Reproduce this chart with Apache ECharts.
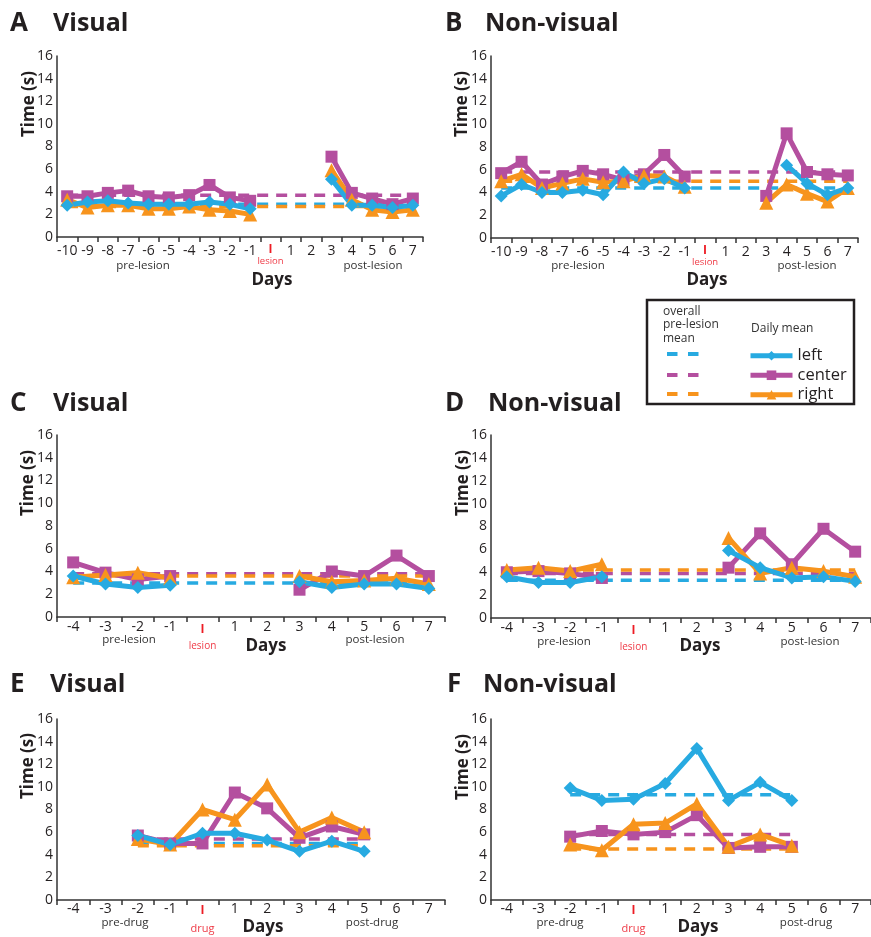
<!DOCTYPE html>
<html><head><meta charset="utf-8">
<script src="https://cdn.jsdelivr.net/npm/echarts@6/dist/echarts.min.js"></script>
<style>html,body{margin:0;padding:0;background:#fff}#c{width:871px;height:937px}</style>
</head><body><div id="c"></div>
<script>
// ---------- categories / ticks ----------
const catsAB = ['-10','-9','-8','-7','-6','-5','-4','-3','-2','-1','lesion','1','2','3','4','5','6','7'];
const catsCD = ['-4','-3','-2','-1','lesion','1','2','3','4','5','6','7'];
const catsEF = ['-4','-3','-2','-1','drug','1','2','3','4','5','6','7'];
const yMin = 0, yMax = 16, yStep = 2;

// ---------- Panel A (Visual, lesion) ----------
const aLeft   = [2.8,3.1,3.2,3.0,2.9,2.9,2.9,3.1,2.9,2.5,null,null,null,5.1,2.8,2.8,2.6,2.8];
const aCenter = [3.6,3.6,3.9,4.1,3.6,3.5,3.7,4.6,3.5,3.2,null,null,null,7.1,3.9,3.4,2.9,3.4];
const aRight  = [3.3,2.6,2.8,2.8,2.5,2.5,2.7,2.4,2.3,2.0,null,null,null,5.9,3.3,2.4,2.2,2.4];
const aMean   = [2.9,3.7,2.7];          // left, center, right
// ---------- Panel B (Non-visual, lesion) ----------
const bLeft   = [3.7,4.7,4.0,4.0,4.2,3.8,5.8,4.8,5.2,4.4,null,null,null,null,6.4,4.8,3.8,4.4];
const bCenter = [5.7,6.7,4.7,5.4,5.9,5.6,5.1,5.6,7.3,5.4,null,null,null,3.7,9.2,5.8,5.6,5.5];
const bRight  = [5.0,5.6,4.4,4.8,5.2,4.9,5.0,5.5,5.4,4.5,null,null,null,3.1,4.7,3.9,3.2,4.4];
const bMean   = [4.4,5.8,5.0];
// ---------- Panel C (Visual, lesion) ----------
const cLeft   = [3.6,2.9,2.6,2.8,null,null,null,3.1,2.6,2.9,2.9,2.5];
const cCenter = [4.8,3.9,3.3,3.6,null,null,null,2.4,4.0,3.6,5.4,3.6];
const cRight  = [3.5,3.7,3.9,3.4,null,null,null,3.6,3.1,3.2,3.4,2.9];
const cMean   = [3.0,3.8,3.6];
// ---------- Panel D (Non-visual, lesion) ----------
const dLeft   = [3.6,3.1,3.1,3.6,null,null,null,5.9,4.4,3.5,3.6,3.2];
const dCenter = [4.0,4.1,3.9,3.5,null,null,null,4.4,7.4,4.7,7.8,5.8];
const dRight  = [4.2,4.4,4.1,4.7,null,null,null,7.0,3.9,4.4,4.1,3.6];
const dMean   = [3.3,3.9,4.2];
// ---------- Panel E (Visual, drug) ----------
const eLeft   = [null,null,5.7,4.9,5.9,5.9,5.3,4.3,5.2,4.3,null,null];
const eCenter = [null,null,5.7,5.0,5.0,9.5,8.1,5.5,6.5,5.8,null,null];
const eRight  = [null,null,5.4,4.9,8.0,7.1,10.2,6.0,7.3,6.0,null,null];
const eMean   = [5.0,5.4,4.8];
// ---------- Panel F (Non-visual, drug) ----------
const fLeft   = [null,null,9.9,8.8,8.9,10.3,13.4,8.8,10.4,8.8,null,null];
const fCenter = [null,null,5.6,6.1,5.8,6.0,7.5,4.6,4.7,4.7,null,null];
const fRight  = [null,null,4.9,4.4,6.7,6.8,8.5,4.7,5.8,4.8,null,null];
const fMean   = [9.3,5.8,4.5];
// mean-line spans (first / last category)
const spanAB = ['-10','7'];
const spanCD = ['-4','7'];
const spanEF = ['-2','5'];

const letters = ['A','B','C','D','E','F'];
const kinds   = ['Visual','Non-visual','Visual','Non-visual','Visual','Non-visual'];

// ---------- styles ----------
const FONT = 'Open Sans';
const COL = {left:'#27aae1', center:'#b44f9f', right:'#f7941d'};
const SYM = {left:'diamond', center:'rect', right:'triangle'};
const SSZ = {left:13, center:12, right:14};
const INK = '#231f20';

const panels = [
  {cats:catsAB, d:{left:aLeft,center:aCenter,right:aRight}, mean:aMean, span:spanAB, ev:'lesion',
   grid:{left:57,top:56,width:366,height:181}, margin:6.5, barLH:13, redLH:10, redFS:9.5},
  {cats:catsAB, d:{left:bLeft,center:bCenter,right:bRight}, mean:bMean, span:spanAB, ev:'lesion',
   grid:{left:491,top:56,width:367,height:182}, margin:6.5, barLH:13, redLH:10, redFS:9.5},
  {cats:catsCD, d:{left:cLeft,center:cCenter,right:cRight}, mean:cMean, span:spanCD, ev:'lesion',
   grid:{left:57,top:435,width:388,height:182}, margin:2.5, barLH:20, redLH:14, redFS:10},
  {cats:catsCD, d:{left:dLeft,center:dCenter,right:dRight}, mean:dMean, span:spanCD, ev:'lesion',
   grid:{left:491,top:435,width:391,height:183}, margin:2.5, barLH:20, redLH:14, redFS:10},
  {cats:catsEF, d:{left:eLeft,center:eCenter,right:eRight}, mean:eMean, span:spanEF, ev:'drug',
   grid:{left:57,top:719,width:388,height:181}, margin:1, barLH:20, redLH:16, redFS:11},
  {cats:catsEF, d:{left:fLeft,center:fCenter,right:fRight}, mean:fMean, span:spanEF, ev:'drug',
   grid:{left:491,top:719,width:389,height:181}, margin:1, barLH:20, redLH:16, redFS:11}
];

const grids = [], xAxes = [], yAxes = [], series = [];
panels.forEach((p, i) => {
  grids.push(Object.assign({containLabel:false}, p.grid));
  xAxes.push({
    type:'category', gridIndex:i, data:p.cats, boundaryGap:true,
    axisLine:{show:true, lineStyle:{color:'#333', width:1.5}},
    axisTick:{show:true, length:5, lineStyle:{color:'#333', width:1.5}},
    splitLine:{show:false},
    axisLabel:{interval:0, margin:p.margin, fontSize:14, lineHeight:16, color:INK, fontFamily:FONT,
      formatter: v => v === p.ev ? '{bar|I}\n{red|' + v + '}' : v,
      rich:{
        bar:{color:'#ed1c24', fontSize:12, fontWeight:'bold', fontFamily:FONT, lineHeight:p.barLH},
        red:{color:'#ef3b47', fontSize:p.redFS, fontFamily:FONT, lineHeight:p.redLH}
      }}
  });
  yAxes.push({
    type:'value', gridIndex:i, min:yMin, max:yMax, interval:yStep,
    axisLine:{show:true, lineStyle:{color:'#333', width:1.5}},
    axisTick:{show:false}, splitLine:{show:false},
    axisLabel:{fontSize:14, color:INK, fontFamily:FONT, margin:4}
  });
  const i0 = p.cats.indexOf(p.span[0]), i1 = p.cats.indexOf(p.span[1]);
  ['left','center','right'].forEach((k, j) => {
    series.push({
      name:k + ' mean', type:'line', xAxisIndex:i, yAxisIndex:i, silent:true,
      data:[[i0, p.mean[j]], [i1, p.mean[j]]], symbol:'none',
      lineStyle:{color:COL[k], width:3.5, type:[11,8]}, z:2
    });
  });
  ['center','right','left'].forEach(k => {
    series.push({
      name:k, type:'line', xAxisIndex:i, yAxisIndex:i, data:p.d[k], connectNulls:false,
      symbol:SYM[k], symbolSize:SSZ[k], color:COL[k],
      lineStyle:{color:COL[k], width:5}, itemStyle:{color:COL[k]}, z:3
    });
  });
});

// ---------- annotation layout ----------
const titlePos = [
  {lx:10, wx:53, y:24}, {lx:445, wx:485, y:24},
  {lx:10, wx:53, y:404}, {lx:445, wx:488, y:404},
  {lx:10, wx:50, y:685}, {lx:447, wx:483, y:685}
];
const timePos = [{x:29,y:104},{x:462,y:104},{x:28,y:483},{x:463,y:483},{x:28,y:766},{x:463,y:767}];
const phasePos = [
  {pre:'pre-lesion', post:'post-lesion', preX:143, postX:373, py:266, dx:272, dy:280},
  {pre:'pre-lesion', post:'post-lesion', preX:578, postX:807, py:266, dx:707, dy:280},
  {pre:'pre-lesion', post:'post-lesion', preX:129, postX:375, py:640, dx:266, dy:646},
  {pre:'pre-lesion', post:'post-lesion', preX:564, postX:810, py:642, dx:700, dy:646},
  {pre:'pre-drug',   post:'post-drug',   preX:125, postX:372, py:923, dx:263, dy:927},
  {pre:'pre-drug',   post:'post-drug',   preX:560, postX:806, py:923, dx:698, dy:927}
];

function txt(x, y, text, o) {
  return {type:'text', x:x, y:y, rotation:o.rot || 0, silent:true,
    style:Object.assign({text:text, fontFamily:FONT, fill:INK, align:'center', verticalAlign:'middle'}, o.style)};
}
const graphics = [];
panels.forEach((p, i) => {
  const t = titlePos[i];
  graphics.push(txt(t.lx, t.y, letters[i], {style:{fontSize:26, fontWeight:'bold', align:'left'}}));
  graphics.push(txt(t.wx, t.y, kinds[i], {style:{fontSize:25, fontWeight:'bold', align:'left'}}));
  graphics.push(txt(timePos[i].x, timePos[i].y, 'Time (s)', {rot:Math.PI/2, style:{fontSize:17, fontWeight:'bold'}}));
  const ph = phasePos[i];
  graphics.push(txt(ph.preX, ph.py, ph.pre, {style:{fontSize:11.5, fill:'#333'}}));
  graphics.push(txt(ph.postX, ph.py, ph.post, {style:{fontSize:11.5, fill:'#333'}}));
  graphics.push(txt(ph.dx, ph.dy, 'Days', {style:{fontSize:17, fontWeight:'bold'}}));
});
// legend box and the dashed "overall pre-lesion mean" samples
graphics.push({type:'rect', silent:true, shape:{x:647, y:300, width:207, height:104},
  style:{fill:'none', stroke:INK, lineWidth:2.5}});
graphics.push(txt(663, 311.5, 'overall',   {style:{fontSize:12, fill:'#333', align:'left'}}));
graphics.push(txt(663, 325,   'pre-lesion',{style:{fontSize:12, fill:'#333', align:'left'}}));
graphics.push(txt(663, 338.5, 'mean',      {style:{fontSize:12, fill:'#333', align:'left'}}));
graphics.push(txt(751, 329,   'Daily mean',{style:{fontSize:12, fill:'#333', align:'left'}}));
[['left',354],['center',375],['right',394]].forEach(([k, y]) => {
  [667, 688].forEach(x => graphics.push({type:'rect', silent:true,
    shape:{x:x, y:y - 2, width:10.5, height:4}, style:{fill:COL[k]}}));
});

const chart = echarts.init(document.getElementById('c'), null, {renderer:'canvas'});
chart.setOption({
  backgroundColor:'#fff',
  animation:false,
  grid:grids, xAxis:xAxes, yAxis:yAxes, series:series,
  legend:{data:['left','center','right'], orient:'vertical', left:748, top:346,
    itemWidth:42, itemHeight:12, itemGap:0, padding:0, selectedMode:false,
    lineStyle:{width:5},
    textStyle:{fontSize:16.5, fontFamily:FONT, color:INK, lineHeight:19.5}},
  graphic:graphics
});
</script></body></html>
